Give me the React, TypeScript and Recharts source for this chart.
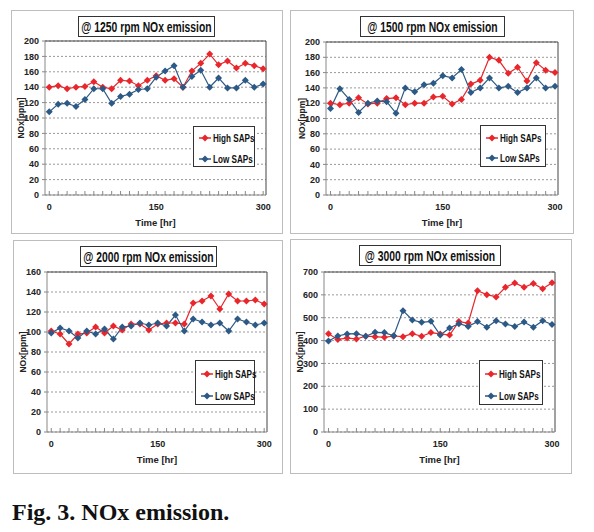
import { LineChart, Line, XAxis, YAxis, CartesianGrid, Legend, ReferenceLine } from 'recharts';

const hours = [0, 12.5, 25, 37.5, 50, 62.5, 75, 87.5, 100, 112.5, 125, 137.5, 150, 162.5, 175, 187.5, 200, 212.5, 225, 237.5, 250, 262.5, 275, 287.5, 300];

const high1250 = [140, 142, 138, 140, 141, 147, 140, 138, 149, 148, 142, 149, 155, 149, 151, 140, 161, 171, 183, 169, 174, 165, 171, 168, 164];
const low1250 = [108, 118, 119, 115, 124, 138, 138, 119, 128, 131, 137, 138, 153, 161, 168, 140, 154, 162, 140, 152, 139, 139, 149, 140, 144];

const high1500 = [120, 118, 120, 127, 119, 120, 126, 127, 118, 120, 120, 128, 129, 119, 125, 145, 150, 180, 176, 159, 167, 149, 173, 163, 160];
const low1500 = [113, 139, 125, 108, 120, 123, 122, 107, 140, 135, 144, 146, 156, 153, 164, 134, 140, 153, 140, 142, 134, 140, 153, 140, 142];

const high2000 = [101, 98, 88, 98, 99, 105, 99, 106, 102, 108, 108, 102, 108, 109, 109, 108, 129, 131, 136, 123, 138, 131, 131, 132, 128];
const low2000 = [99, 104, 101, 94, 101, 98, 103, 93, 105, 106, 109, 107, 109, 106, 117, 101, 113, 110, 107, 109, 101, 113, 110, 107, 109];

const high3000 = [430, 405, 411, 407, 419, 417, 414, 420, 417, 430, 419, 435, 429, 424, 483, 477, 618, 601, 591, 633, 652, 633, 650, 627, 653];
const low3000 = [398, 420, 429, 430, 419, 436, 435, 421, 531, 490, 480, 484, 424, 455, 474, 462, 483, 458, 487, 472, 462, 481, 458, 487, 470];

const ticks200 = [0, 20, 40, 60, 80, 100, 120, 140, 160, 180, 200];
const ticks160 = [0, 20, 40, 60, 80, 100, 120, 140, 160];
const ticks700 = [0, 100, 200, 300, 400, 500, 600, 700];
const xLabels = [0, 150, 300];

const RED = '#e8262b';
const BLUE = '#2c5985';
const FONT = '"Liberation Sans", Arial, sans-serif';

const Diamond = (props: any) => {
  const { cx, cy, fill } = props;
  if (cx == null || cy == null) return null;
  const r = 3.5;
  return <polygon points={`${cx},${cy - r} ${cx + r},${cy} ${cx},${cy + r} ${cx - r},${cy}`} fill={fill} />;
};

const TimeTick = (props: any) => {
  const { x, y, payload } = props;
  const show = xLabels.includes(payload.value);
  return (
    <g>
      <line x1={x} x2={x} y1={y} y2={y - 4} stroke="#888" />
      {show && (
        <text x={x} y={y + 15} textAnchor="middle" fontSize={9} fontWeight="bold" fill="#222" fontFamily={FONT}>
          {payload.value}
        </text>
      )}
    </g>
  );
};

// there is no narrow (Calibri-like) font, so squeeze text with a horizontal scale
const NARROW = 0.74;

const LegendBox = ({ w, h }: { w: number; h: number }) => {
  const rows = [
    { c: RED, t: 'High SAPs', y: Math.round(h * 0.28) },
    { c: BLUE, t: 'Low SAPs', y: Math.round(h * 0.77) },
  ];
  return (
    <div style={{ width: w, height: h, boxSizing: 'border-box', border: '1px solid #333', background: '#fff' }}>
      <svg width={w - 2} height={h - 2} style={{ display: 'block', overflow: 'visible' }}>
        {rows.map((r) => (
          <g key={r.t}>
            <line x1={5} x2={17} y1={r.y} y2={r.y} stroke={r.c} strokeWidth={1.5} />
            <polygon points={`11,${r.y - 3.5} 14.5,${r.y} 11,${r.y + 3.5} 7.5,${r.y}`} fill={r.c} />
            <g transform={`translate(19 ${r.y + 4}) scale(${NARROW} 1)`}>
              <text x={0} y={0} fontSize={11} fontWeight="bold" fill="#111" fontFamily={FONT}>
                {r.t}
              </text>
            </g>
          </g>
        ))}
      </svg>
    </div>
  );
};

type PanelProps = {
  left: number; top: number; width: number; height: number;
  title: string; titleLeft: number; titleWidth: number;
  high: number[]; low: number[]; yTicks: number[];
  margin: { top: number; right: number; left: number; bottom: number };
  legend: { left: number; top: number; w: number; h: number };
};

function Panel(p: PanelProps) {
  const data = hours.map((t, i) => ({ t, high: p.high[i], low: p.low[i] }));
  const yMax = p.yTicks[p.yTicks.length - 1];
  const tw = p.titleWidth - 2;
  return (
    <div style={{ position: 'absolute', left: p.left, top: p.top, width: p.width, height: p.height, boxSizing: 'border-box', border: '1px solid #bdbdbd', background: '#fff' }}>
      <div style={{ position: 'absolute', left: p.titleLeft, top: 5, width: p.titleWidth, height: 21, boxSizing: 'border-box', border: '1px solid #333', background: '#fff', zIndex: 2 }}>
        <svg width={tw} height={19} style={{ display: 'block', overflow: 'visible' }}>
          <g transform={`translate(${tw / 2} 14.5) scale(${NARROW} 1)`}>
            <text x={0} y={0} textAnchor="middle" fontSize={14} fontWeight="bold" fill="#111" fontFamily={FONT}>
              {p.title}
            </text>
          </g>
        </svg>
      </div>
      <LineChart width={p.width - 2} height={p.height - 2} data={data} margin={p.margin}>
        <CartesianGrid vertical={false} strokeDasharray="2 2" stroke="#999" />
        <XAxis
          dataKey="t"
          type="number"
          domain={[-6, 304]}
          ticks={hours}
          interval={0}
          tickSize={0}
          tickMargin={0}
          tickLine={false}
          tick={<TimeTick />}
          height={20}
          axisLine={{ stroke: '#888' }}
          label={{ value: 'Time [hr]', position: 'insideBottom', offset: -11, fontSize: 9.5, fontWeight: 'bold', fill: '#222', fontFamily: FONT }}
        />
        <YAxis
          domain={[0, yMax]}
          ticks={p.yTicks}
          interval={0}
          width={30}
          tickSize={3}
          tickMargin={3}
          tickLine={{ stroke: '#888' }}
          axisLine={{ stroke: '#888' }}
          tick={{ fontSize: 9, fontWeight: 'bold', fill: '#222', fontFamily: FONT }}
          label={{ value: 'NOx[ppm]', angle: -90, position: 'insideLeft', offset: 6, fontSize: 8.5, fontWeight: 'bold', fill: '#222', fontFamily: FONT, style: { textAnchor: 'middle' } }}
        />
        <ReferenceLine y={yMax} stroke="#444" />
        <ReferenceLine x={304} stroke="#444" />
        <Legend
          layout="horizontal"
          verticalAlign="middle"
          align="center"
          wrapperStyle={{ position: 'absolute', left: p.legend.left, top: p.legend.top, width: p.legend.w, height: p.legend.h }}
          content={() => <LegendBox w={p.legend.w} h={p.legend.h} />}
        />
        <Line dataKey="high" name="High SAPs" stroke={RED} strokeWidth={1.2} dot={<Diamond fill={RED} />} isAnimationActive={false} />
        <Line dataKey="low" name="Low SAPs" stroke={BLUE} strokeWidth={1.2} dot={<Diamond fill={BLUE} />} isAnimationActive={false} />
      </LineChart>
    </div>
  );
}

export default function App() {
  return (
    <div style={{ position: 'absolute', left: 0, top: 0, width: 594, height: 532, background: '#fff' }}>
      <Panel left={11} top={10} width={272} height={224} title="@ 1250 rpm NOx emission" titleLeft={66} titleWidth={137}
        high={high1250} low={low1250} yTicks={ticks200}
        margin={{ top: 30, right: 16, left: 3, bottom: 18 }}
        legend={{ left: 181, top: 115, w: 62, h: 41 }} />
      <Panel left={290} top={10} width={284} height={224} title="@ 1500 rpm NOx emission" titleLeft={69} titleWidth={145}
        high={high1500} low={low1500} yTicks={ticks200}
        margin={{ top: 31, right: 15, left: 5, bottom: 18 }}
        legend={{ left: 189, top: 114, w: 66, h: 42 }} />
      <Panel left={13} top={240} width={270} height={234} title="@ 2000 rpm NOx emission" titleLeft={66} titleWidth={137}
        high={high2000} low={low2000} yTicks={ticks160}
        margin={{ top: 31, right: 15, left: 3, bottom: 21 }}
        legend={{ left: 181, top: 119, w: 60, h: 45 }} />
      <Panel left={290} top={239} width={282} height={235} title="@ 3000 rpm NOx emission" titleLeft={68} titleWidth={142}
        high={high3000} low={low3000} yTicks={ticks700}
        margin={{ top: 32, right: 16, left: 3, bottom: 21 }}
        legend={{ left: 188, top: 120, w: 64, h: 45 }} />
      <div style={{ position: 'absolute', left: 12, top: 499, fontFamily: '"Liberation Serif", "Times New Roman", serif', fontWeight: 'bold', fontSize: 24, color: '#111', whiteSpace: 'nowrap' }}>
        Fig. 3. NOx emission.
      </div>
    </div>
  );
}
